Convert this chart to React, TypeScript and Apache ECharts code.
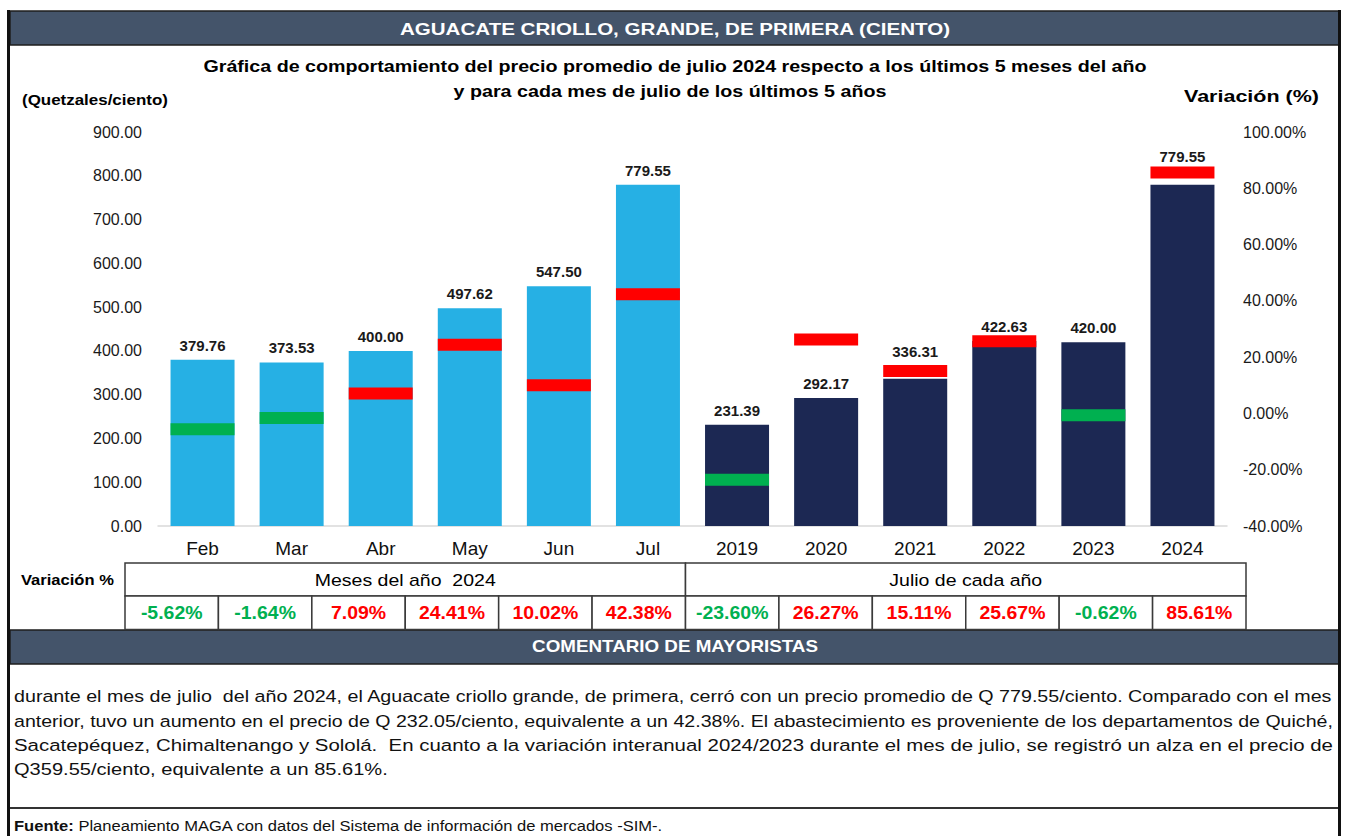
import React, { useEffect, useRef } from 'react';
import * as echarts from 'echarts';

// ---------- data ----------
const categories = ['Feb', 'Mar', 'Abr', 'May', 'Jun', 'Jul', '2019', '2020', '2021', '2022', '2023', '2024'];
const prices = [379.76, 373.53, 400.0, 497.62, 547.5, 779.55, 231.39, 292.17, 336.31, 422.63, 420.0, 779.55];
const variations = [-5.62, -1.64, 7.09, 24.41, 10.02, 42.38, -23.6, 26.27, 15.11, 25.67, -0.62, 85.61];
const groupLabels = ['Meses del año  2024', 'Julio de cada año'];
const priceAxis = { min: 0, max: 900, interval: 100 };
const pctAxis = { min: -40, max: 100, interval: 20 };

const headerTitle = 'AGUACATE CRIOLLO, GRANDE, DE PRIMERA (CIENTO)';
const subtitleLines = [
  'Gráfica de comportamiento del precio promedio de julio 2024 respecto a los últimos 5 meses del año',
  'y para cada mes de julio de los últimos 5 años',
];
const leftAxisName = '(Quetzales/ciento)';
const rightAxisName = 'Variación (%)';
const tableRowName = 'Variación %';
const commentTitle = 'COMENTARIO DE MAYORISTAS';
const commentLines = [
  'durante el mes de julio  del año 2024, el Aguacate criollo grande, de primera, cerró con un precio promedio de Q 779.55/ciento. Comparado con el mes',
  'anterior, tuvo un aumento en el precio de Q 232.05/ciento, equivalente a un 42.38%. El abastecimiento es proveniente de los departamentos de Quiché,',
  'Sacatepéquez, Chimaltenango y Sololá.  En cuanto a la variación interanual 2024/2023 durante el mes de julio, se registró un alza en el precio de',
  'Q359.55/ciento, equivalente a un 85.61%.',
];
const sourceBold = 'Fuente:';
const sourceRest = ' Planeamiento MAGA con datos del Sistema de información de mercados -SIM-.';

// ---------- style ----------
const FONT = "'Liberation Sans', Arial, sans-serif";
const SLATE = '#44546A';
const LIGHT = '#26B0E4';
const DARK = '#1C2853';
const RED = '#FF0000';
const GREEN = '#00B050';

let measureCtx: CanvasRenderingContext2D | null = null;
function measure(text: string, size: number, weight: string) {
  if (!measureCtx) measureCtx = document.createElement('canvas').getContext('2d');
  if (!measureCtx) return text.length * size * 0.5;
  measureCtx.font = `${weight} ${size}px ${FONT}`;
  return measureCtx.measureText(text).width;
}
function fit(text: string, size: number, weight: string, target: number) {
  const w = measure(text, size, weight);
  return w > 0 ? target / w : 1;
}

function txt(
  text: string,
  x: number,
  y: number,
  size: number,
  opts: { weight?: string; fill?: string; align?: string; scaleX?: number; rich?: any } = {}
) {
  return {
    type: 'text',
    x,
    y,
    scaleX: opts.scaleX ?? 1,
    silent: true,
    z: 10,
    style: {
      text,
      fontSize: size,
      fontFamily: FONT,
      fontWeight: opts.weight ?? 'normal',
      fill: opts.fill ?? '#000',
      align: opts.align ?? 'left',
      verticalAlign: 'middle',
      rich: opts.rich,
    },
  };
}

function buildOption() {
  const g: any[] = [];

  // frame & header bars
  g.push({ type: 'rect', shape: { x: 10, y: 11, width: 1329, height: 34 }, style: { fill: SLATE, stroke: '#1e1e1e', lineWidth: 1.5 }, silent: true });
  g.push({ type: 'rect', shape: { x: 10, y: 630, width: 1329, height: 34 }, style: { fill: SLATE, stroke: '#1e1e1e', lineWidth: 1.5 }, silent: true });
  g.push({ type: 'rect', shape: { x: 7, y: 10, width: 3, height: 830 }, style: { fill: '#111' }, silent: true });
  g.push({ type: 'rect', shape: { x: 1338, y: 10, width: 3, height: 830 }, style: { fill: '#111' }, silent: true });
  g.push({ type: 'line', shape: { x1: 10, y1: 808, x2: 1338, y2: 808 }, style: { stroke: '#333', lineWidth: 2 }, silent: true });

  g.push(txt(headerTitle, 675, 29, 17, { weight: 'bold', fill: '#fff', align: 'center', scaleX: fit(headerTitle, 17, 'bold', 551) }));
  const subScale = fit(subtitleLines[0], 16, 'bold', 944);
  g.push(txt(subtitleLines[0], 675, 67, 16, { weight: 'bold', align: 'center', scaleX: subScale }));
  g.push(txt(subtitleLines[1], 670, 92, 16, { weight: 'bold', align: 'center', scaleX: subScale }));
  g.push(txt(leftAxisName, 22, 100, 14, { weight: 'bold', scaleX: fit(leftAxisName, 14, 'bold', 146) }));
  g.push(txt(rightAxisName, 1319, 96, 17, { weight: 'bold', align: 'right', scaleX: fit(rightAxisName, 17, 'bold', 135) }));

  // table
  const tx0 = 125;
  const tx1 = 1246;
  const cw = (tx1 - tx0) / categories.length;
  const mid = tx0 + cw * 6;
  const border = { stroke: '#3a3a3a', lineWidth: 1.5, fill: '#fff' };
  g.push({ type: 'rect', shape: { x: tx0, y: 563, width: mid - tx0, height: 33 }, style: border, silent: true });
  g.push({ type: 'rect', shape: { x: mid, y: 563, width: tx1 - mid, height: 33 }, style: border, silent: true });
  g.push(txt(tableRowName, 21, 580, 15, { weight: 'bold', scaleX: fit(tableRowName, 15, 'bold', 93) }));
  g.push(txt(groupLabels[0], (tx0 + mid) / 2, 580, 17, { align: 'center', scaleX: fit(groupLabels[0], 17, 'normal', 181) }));
  g.push(txt(groupLabels[1], (mid + tx1) / 2, 580, 17, { align: 'center', scaleX: fit(groupLabels[1], 17, 'normal', 153) }));
  const valScale = fit('42.38%', 19, 'bold', 66);
  variations.forEach((v, i) => {
    const x = tx0 + cw * i;
    g.push({ type: 'rect', shape: { x, y: 596, width: cw, height: 33.5 }, style: border, silent: true });
    g.push(txt(`${v.toFixed(2)}%`, x + cw / 2, 613, 19, { weight: 'bold', align: 'center', fill: v < 0 ? GREEN : RED, scaleX: valScale }));
  });

  // comment
  g.push(txt(commentTitle, 675, 647, 16, { weight: 'bold', fill: '#fff', align: 'center', scaleX: fit(commentTitle, 16, 'bold', 286) }));
  const lineYs = [696, 720.5, 745, 769.5];
  commentLines.forEach((line, i) => {
    const target = i < commentLines.length - 1 ? 1320 : 374;
    g.push(txt(line, 14, lineYs[i], 17, { fill: '#111', scaleX: fit(line, 17, 'normal', target) }));
  });
  const srcW = measure(sourceBold, 15, 'bold') + measure(sourceRest, 15, 'normal');
  g.push(txt(`{b|${sourceBold}}${sourceRest}`, 14, 826, 15, {
    fill: '#111',
    scaleX: srcW > 0 ? 650 / srcW : 1,
    rich: { b: { fontWeight: 'bold', fontSize: 15, fontFamily: FONT, fill: '#111' } },
  }));

  const raisedLabels: Record<number, number> = { 8: 13, 11: 14 };

  return {
    animation: false,
    backgroundColor: '#fff',
    grid: { left: 158, right: 121, top: 132, bottom: 310, containLabel: false },
    xAxis: {
      type: 'category',
      data: categories,
      axisLine: { show: true, lineStyle: { color: '#D9D9D9', width: 1.5 } },
      axisTick: { show: false },
      axisLabel: { fontSize: 19, fontFamily: FONT, color: '#111', margin: 13 },
    },
    yAxis: [
      {
        type: 'value',
        min: priceAxis.min,
        max: priceAxis.max,
        interval: priceAxis.interval,
        axisLine: { show: false },
        axisTick: { show: false },
        splitLine: { show: false },
        axisLabel: { fontSize: 16, fontFamily: FONT, color: '#1a1a1a', margin: 16, formatter: (v: number) => v.toFixed(2) },
      },
      {
        type: 'value',
        position: 'right',
        min: pctAxis.min,
        max: pctAxis.max,
        interval: pctAxis.interval,
        axisLine: { show: false },
        axisTick: { show: false },
        splitLine: { show: false },
        axisLabel: { fontSize: 16, fontFamily: FONT, color: '#1a1a1a', margin: 16, formatter: (v: number) => `${v.toFixed(2)}%` },
      },
    ],
    series: [
      {
        type: 'bar',
        yAxisIndex: 0,
        barWidth: 64,
        silent: true,
        z: 2,
        data: prices.map((v, i) => ({
          value: v,
          itemStyle: { color: i < 6 ? LIGHT : DARK },
          label: raisedLabels[i] ? { offset: [0, -raisedLabels[i]] } : undefined,
        })),
        label: {
          show: true,
          position: 'top',
          distance: 7,
          fontSize: 15,
          fontWeight: 'bold',
          fontFamily: FONT,
          color: '#1a1a1a',
          formatter: (p: any) => Number(p.value).toFixed(2),
        },
      },
      {
        type: 'scatter',
        yAxisIndex: 1,
        symbol: 'rect',
        symbolSize: [64, 12],
        silent: true,
        z: 3,
        itemStyle: { opacity: 1 },
        data: variations.map((v) => ({ value: v, itemStyle: { color: v < 0 ? GREEN : RED, opacity: 1 } })),
      },
    ],
    graphic: { elements: g },
  };
}

export default function App() {
  const ref = useRef<HTMLDivElement>(null);
  useEffect(() => {
    if (!ref.current) return;
    const chart = echarts.init(ref.current, undefined, { renderer: 'svg' });
    chart.setOption(buildOption() as any);
    return () => chart.dispose();
  }, []);
  return (
    <div
      ref={ref}
      style={{ position: 'fixed', left: 0, top: 0, width: 1348, height: 836, background: '#fff' }}
    />
  );
}
